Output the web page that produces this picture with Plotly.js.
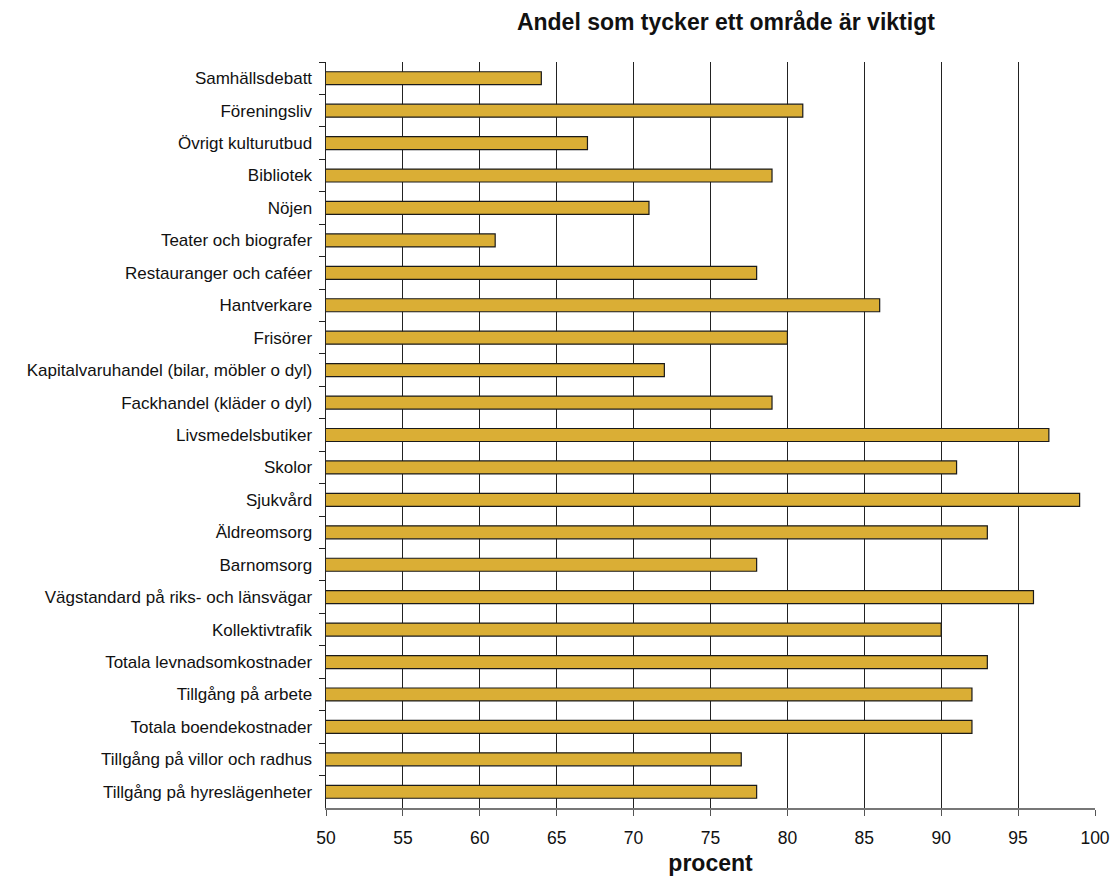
<!DOCTYPE html>
<html><head><meta charset="utf-8">
<script src="https://cdn.plot.ly/plotly-3.0.1.min.js"></script>
<style>body{margin:0;background:#fff}</style>
</head><body><div id="c" style="width:1117px;height:876px"></div>
<script>
const categories = ["Samhällsdebatt","Föreningsliv","Övrigt kulturutbud","Bibliotek","Nöjen","Teater och biografer","Restauranger och caféer","Hantverkare","Frisörer","Kapitalvaruhandel (bilar, möbler o dyl)","Fackhandel (kläder o dyl)","Livsmedelsbutiker","Skolor","Sjukvård","Äldreomsorg","Barnomsorg","Vägstandard på riks- och länsvägar","Kollektivtrafik","Totala levnadsomkostnader","Tillgång på arbete","Totala boendekostnader","Tillgång på villor och radhus","Tillgång på hyreslägenheter"];
const values = [64,81,67,79,71,61,78,86,80,72,79,97,91,99,93,78,96,90,93,92,92,77,78];
const xTicks = [50,55,60,65,70,75,80,85,90,95,100];
const font = "Liberation Sans, Arial, sans-serif";
Plotly.newPlot("c",[{
  type:"bar", orientation:"h", y:categories, x:values, base:0,
  width:0.4,
  marker:{color:"#DAAE35", line:{color:"#1a1a1a", width:1.2}},
  hoverinfo:"x+y"
}],{
  width:1117, height:876,
  margin:{l:326, r:22, t:62, b:68},
  paper_bgcolor:"#fff", plot_bgcolor:"#fff",
  font:{family:font, size:17, color:"#111"},
  title:{text:"<b>Andel som tycker ett område är viktigt</b>", font:{family:font, size:23, color:"#111"}, x:0.52, xref:"paper", xanchor:"center", y:0.975, yanchor:"middle"},
  xaxis:{range:[50,100], tickvals:xTicks, ticktext:xTicks.map(String), showgrid:true, gridcolor:"#222", gridwidth:1,
    showline:true, linecolor:"#777", linewidth:2, ticks:"outside", ticklen:6, tickcolor:"#555", zeroline:false,
    tickfont:{size:17.5}, ticklabelstandoff:7, title:{text:"<b>procent</b>", font:{size:23}, standoff:9}},
  yaxis:{autorange:"reversed", type:"category", showline:true, linecolor:"#222", linewidth:1.5, ticks:"outside", tickson:"boundaries", ticklen:6, tickcolor:"#222", showgrid:false, tickfont:{size:17}, ticklabelstandoff:9},
  showlegend:false
},{displayModeBar:false, staticPlot:true});
</script></body></html>
